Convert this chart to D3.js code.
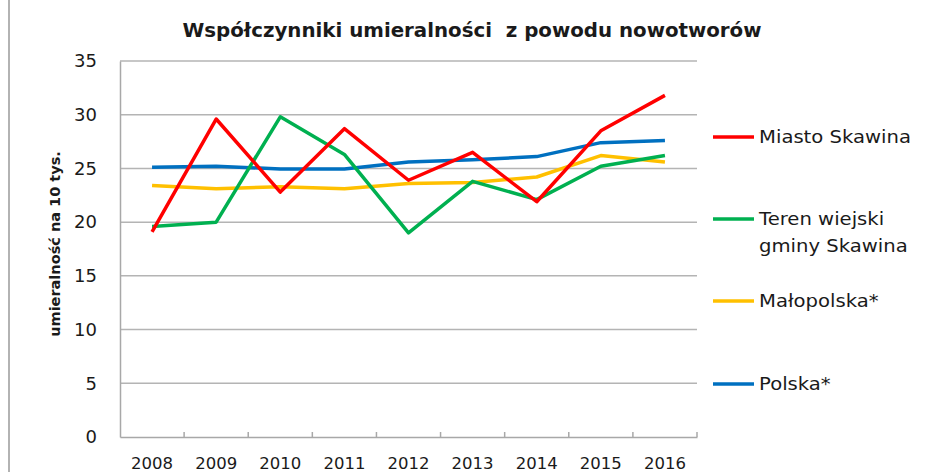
<!DOCTYPE html>
<html>
<head>
<meta charset="utf-8">
<script src="https://cdn.jsdelivr.net/npm/d3@7"></script>
<style>
  body { margin: 0; background: #fff; }
  text { font-family: "DejaVu Sans", sans-serif; fill: #1a1a1a; }
</style>
</head>
<body>
<svg></svg>
<script>
// data
let years = ['2008', '2009', '2010', '2011', '2012', '2013', '2014', '2015', '2016']
let miasto = [19.1, 29.6, 22.8, 28.7, 23.9, 26.5, 21.9, 28.5, 31.8]
let teren = [19.6, 20.0, 29.8, 26.3, 19.0, 23.8, 22.1, 25.2, 26.2]
let malopolska = [23.4, 23.1, 23.3, 23.1, 23.6, 23.7, 24.2, 26.2, 25.6]
let polska = [25.1, 25.2, 24.95, 24.95, 25.6, 25.8, 26.1, 27.4, 27.6]
let seriesNames = ['Miasto Skawina', 'Teren wiejski|gminy Skawina', 'Małopolska*', 'Polska*']
let yTicks = [0, 5, 10, 15, 20, 25, 30, 35]

let width = 927
let height = 472
let plotLeft = 120
let plotRight = 697
let plotTop = 61
let plotBottom = 437

let svg = d3.select('svg')
    .attr('width', width)
    .attr('height', height)

// thin line at the left edge of the picture
svg.append('line')
    .attr('x1', 9).attr('x2', 9)
    .attr('y1', 0).attr('y2', height)
    .attr('stroke', '#9a9a9a')
    .attr('stroke-width', 1.5)

// title is a bit wider in the picture than the font gives
svg.append('text')
    .attr('x', 472)
    .attr('y', 37)
    .attr('text-anchor', 'middle')
    .attr('textLength', 579)
    .attr('lengthAdjust', 'spacingAndGlyphs')
    .style('font-weight', 'bold')
    .style('font-size', '19px')
    .style('white-space', 'pre')
    .text('Współczynniki umieralności  z powodu nowotworów')

let xScale = d3.scaleBand()
    .domain(years)
    .range([plotLeft, plotRight])

let yScale = d3.scaleLinear()
    .domain([0, 35])
    .range([plotBottom, plotTop])

// gridlines
svg.append('g')
    .selectAll('line')
    .data(yTicks.filter(t => t > 0))
    .enter()
    .append('line')
    .attr('x1', plotLeft)
    .attr('x2', plotRight)
    .attr('y1', d => yScale(d))
    .attr('y2', d => yScale(d))
    .attr('stroke', '#b4b4b4')
    .attr('stroke-width', 1.5)

// y axis
let yAxis = d3.axisLeft(yScale)
    .tickValues(yTicks)
    .tickSize(0)
    .tickPadding(23)

let gy = svg.append('g')
    .attr('transform', 'translate(' + plotLeft + ', 0)')
    .call(yAxis)
gy.select('.domain').attr('stroke', '#a8a8a8').attr('stroke-width', 1.5)
gy.selectAll('text')
    .style('font-size', '18px')
    .style('font-family', '"DejaVu Sans", sans-serif')
    .attr('fill', '#1a1a1a')

// x axis
let xAxis = d3.axisBottom(xScale)
    .tickSize(0)
    .tickPadding(20)

let gx = svg.append('g')
    .attr('transform', 'translate(0, ' + plotBottom + ')')
    .call(xAxis)
gx.select('.domain').attr('stroke', '#a8a8a8').attr('stroke-width', 1.5)
gx.selectAll('text')
    .style('font-size', '16.5px')
    .style('font-family', '"DejaVu Sans", sans-serif')
    .attr('fill', '#1a1a1a')

// tick marks between categories
svg.append('g')
    .selectAll('line')
    .data(years)
    .enter()
    .append('line')
    .attr('x1', d => xScale(d) + xScale.bandwidth())
    .attr('x2', d => xScale(d) + xScale.bandwidth())
    .attr('y1', plotBottom)
    .attr('y2', plotBottom - 5)
    .attr('stroke', '#a8a8a8')
    .attr('stroke-width', 1.5)

svg.append('text')
    .attr('transform', 'translate(60, 244) rotate(-90)')
    .attr('text-anchor', 'middle')
    .style('font-weight', 'bold')
    .style('font-size', '14.5px')
    .text('umieralność na 10 tys.')

// lines
let allSeries = [miasto, teren, malopolska, polska]
let colors = ['#ff0000', '#00b050', '#ffc000', '#0070c0']
let drawOrder = [3, 2, 1, 0]

let line = d3.line()
    .x((d, i) => xScale(years[i]) + xScale.bandwidth() / 2)
    .y(d => yScale(d))

drawOrder.forEach(k => {
    svg.append('path')
        .datum(allSeries[k])
        .attr('d', line)
        .attr('fill', 'none')
        .attr('stroke', colors[k])
        .attr('stroke-width', 3.5)
        .attr('stroke-linejoin', 'round')
})

// legend
let legendY = [137, 219, 301, 384]
seriesNames.forEach((name, i) => {
    let g = svg.append('g')
    g.append('line')
        .attr('x1', 713).attr('x2', 754)
        .attr('y1', legendY[i]).attr('y2', legendY[i])
        .attr('stroke', colors[i])
        .attr('stroke-width', 3.5)
    name.split('|').forEach((part, j) => {
        let t = g.append('text')
            .attr('x', 759)
            .attr('y', legendY[i] + 6 + j * 27)
            .style('font-size', '18px')
            .text(part)
        // stretch a little, the picture's font is wider
        let w = t.node().getComputedTextLength()
        t.attr('textLength', w * 1.09).attr('lengthAdjust', 'spacingAndGlyphs')
    })
})
</script>
</body>
</html>
